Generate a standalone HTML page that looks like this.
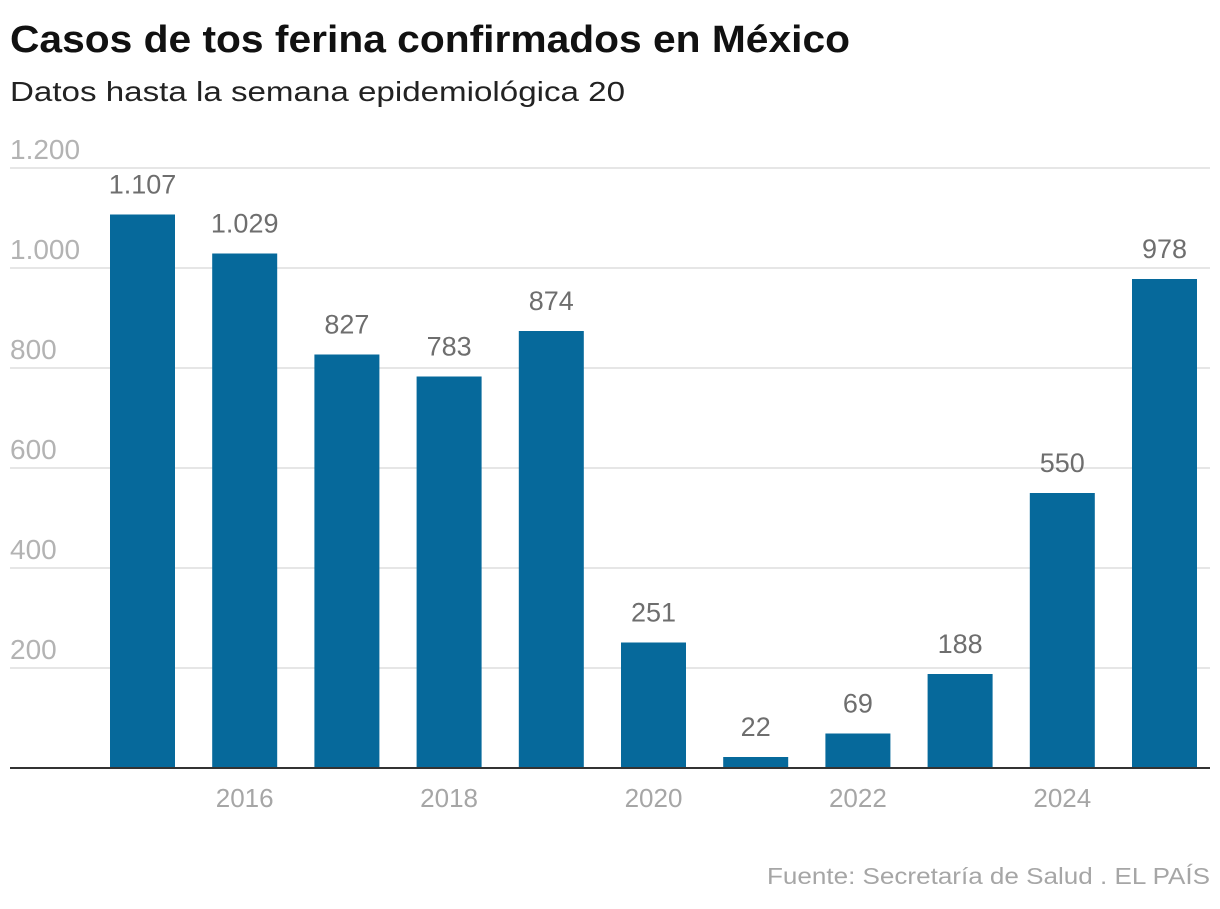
<!DOCTYPE html>
<html><head><meta charset="utf-8">
<style>
html,body{margin:0;padding:0;background:#fff;}
body{width:1220px;height:904px;overflow:hidden;font-family:"Liberation Sans",sans-serif;}
</style></head>
<body>
<svg id="chart" width="1220" height="904" xmlns="http://www.w3.org/2000/svg" font-family="Liberation Sans, sans-serif">
<text x="10" y="52" font-size="38" font-weight="bold" fill="#111" textLength="840" lengthAdjust="spacingAndGlyphs">Casos de tos ferina confirmados en México</text>
<text x="10" y="101" font-size="28" fill="#222" textLength="615" lengthAdjust="spacingAndGlyphs">Datos hasta la semana epidemiológica 20</text>
<g id="grid"></g>
<g id="bars"></g>
<g id="xaxis"></g>
<text x="1210" y="884" text-anchor="end" font-size="23" fill="#a6a6a6" textLength="443" lengthAdjust="spacingAndGlyphs">Fuente: Secretaría de Salud . EL PAÍS</text>
</svg>
<script>
const years = [2015,2016,2017,2018,2019,2020,2021,2022,2023,2024,2025];
const values = [1107,1029,827,783,874,251,22,69,188,550,978];
const valueLabels = ["1.107","1.029","827","783","874","251","22","69","188","550","978"];
const yTicks = [200,400,600,800,1000,1200];
const yTickLabels = ["200","400","600","800","1.000","1.200"];
const xTickYears = [2016,2018,2020,2022,2024];

const NS="http://www.w3.org/2000/svg";
const y0=768, pxPer=0.5;
const yScale=v=>y0-v*pxPer;
const x0=110, step=102.2, bw=65;
const xScale=yr=>x0+(yr-years[0])*step;
function mk(tag,attrs,parent,txt){const e=document.createElementNS(NS,tag);for(const k in attrs)e.setAttribute(k,attrs[k]);if(txt!==undefined)e.textContent=txt;parent.appendChild(e);return e;}
const grid=document.getElementById('grid'), bars=document.getElementById('bars'), xa=document.getElementById('xaxis');
yTicks.forEach((t,i)=>{
  const l=mk('line',{x1:10,x2:1210,y1:yScale(t),y2:yScale(t),stroke:'#dddddd','stroke-width':1.5},grid);
  
  
  const tx=mk('text',{x:10,y:yScale(t)-9,'font-size':28,fill:'#b3b3b3'},grid,yTickLabels[i]);
  
  
});
values.forEach((v,i)=>{
  const x=xScale(years[i]);
  const r=mk('rect',{x:x,y:yScale(v),width:bw,height:y0-yScale(v),fill:'#06699b'},bars);
  
  
  const t=mk('text',{x:x+bw/2,y:yScale(v)-21,'text-anchor':'middle','font-size':27,fill:'#6e6e6e'},bars,valueLabels[i]);
  
  
});
const ax=mk('line',{x1:10,x2:1210,y1:y0,y2:y0,stroke:'#333','stroke-width':2},xa);


xTickYears.forEach(yr=>{
  const t=mk('text',{x:xScale(yr)+bw/2,y:807,'text-anchor':'middle','font-size':26,fill:'#a6a6a6'},xa,String(yr));
  
  
});
</script>
</body></html>
